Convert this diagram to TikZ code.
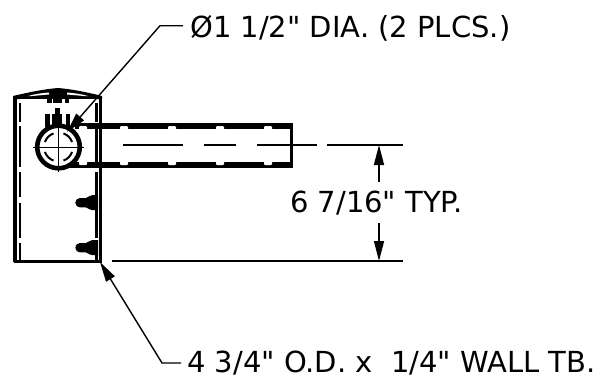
\documentclass[tikz,border=0pt]{standalone}
\usepackage{fontspec}
\setmainfont[Ligatures=TeXOff]{DejaVu Sans}
\usetikzlibrary{arrows.meta}
\tikzset{
 wall line/.style={line width=3.7pt,line join=round},
 thin line/.style={line width=1.4pt},
 hidden/.style={line width=2.2pt},
 lbl/.style={font=\fontsize{29}{30}\selectfont,inner sep=0pt,anchor=base west},
 tip/.style={-{Triangle[length=20pt,width=10pt]},line width=1.4pt}
}
\begin{document}
\begin{tikzpicture}[x=1pt,y=-1pt]
\useasboundingbox (0,0) rectangle (602,381);
% box body
\draw[wall line] (15,262) -- (15,97);
\draw[line width=2.6pt] (13.5,261.2) -- (102,261.2);
\draw[line width=3pt] (100,262) -- (100,97);
% cap
\fill[line join=round] (13,99) -- (13,96) .. controls (30,92) and (45,89) .. (58,88) .. controls (71,89) and (86,92) .. (102,96) -- (102,99) -- cycle;
\fill[white] (28,96) .. controls (35,94) and (42,93) .. (49,92.5) -- (49,94.5) -- (32,96) -- cycle;
\fill[white] (88,96) .. controls (81,94) and (74,93) .. (67,92.5) -- (67,94.5) -- (84,96) -- cycle;
\fill[white] (20,99) rectangle (96,100);
% inner hidden lines
\foreach \x in {20,96.5}{
 \draw[hidden] (\x,103) -- (\x,122); \draw[hidden] (\x,126) -- (\x,167); \draw[hidden] (\x,172) -- (\x,197); \draw[hidden] (\x,203) -- (\x,238); \draw[hidden] (\x,243) -- (\x,260);}
% top fastener
\fill (47,97) rectangle (52,103);
\fill (53,97) rectangle (62,103);
\fill (65,97) rectangle (69,103);
\fill (55,108) rectangle (60,117);
\fill (45,114) rectangle (50,127);
\fill (52,114) rectangle (62,127);
\fill (66,114) rectangle (70,127);
% tube
\fill (75,122.7) rectangle (293.3,129);
\fill (55,161.7) rectangle (293.3,168.3);
\fill (289.8,122.7) rectangle (293.3,168.3);
\foreach \x in {83,124,172,220,268}{
 \fill[white,rounded corners=1pt] (\x-4,126) rectangle (\x+4,130);
 \fill[white,rounded corners=1pt] (\x-4,160.5) rectangle (\x+4,165);
}
% pipe circle
\fill[white] (58.5,147) circle (21);
\draw[line width=4.6pt] (58.5,147) circle (21.3);
\foreach \a in {20,110,200,290}{
 \draw[line width=2pt] (58.5,147) ++(\a:14.5) arc (\a:\a+50:14.5);
}
\draw[line width=1pt] (33,147) -- (84,147);
\draw[line width=1pt] (58.5,120) -- (58.5,172);
% centre line
\draw[thin line] (123,145) -- (183,145);
\draw[thin line] (204,145) -- (236,145);
\draw[thin line] (257,145) -- (317,145);
\draw[thin line] (327,145) -- (403,145);
% bolts
\foreach \y in {202.7,247.7}{
 \fill (92,\y-7.5) -- (98,\y-7.5) -- (98,\y+7.5) -- (92,\y+7.5) .. controls (89,\y+7.5) and (88,\y+4.7) .. (86,\y+4.7) -- (80,\y+4.7) arc (90:270:4.7) -- (86,\y-4.7) .. controls (88,\y-4.7) and (89,\y-7.5) .. (92,\y-7.5) -- cycle;
}
% dimension
\coordinate (dimtop) at (379,145);
\coordinate (dimbot) at (379,261);
\coordinate (dimtopend) at (379,182);
\coordinate (dimbotend) at (379,223);
\coordinate (exta) at (112,261);
\coordinate (extb) at (403,261);
\draw[thin line] (exta) -- (extb);
\draw[tip] (dimtopend) -- (dimtop);
\draw[tip] (dimbotend) -- (dimbot);
\node[lbl] (dim) at (290,212.7) {6 7/16" TYP.};
% leaders
\node[lbl] (dia) at (190,37) {Ø1 1/2" DIA. (2 PLCS.)};
\node[lbl] (wall) at (187,372) {4 3/4" O.D. x\ \ 1/4" WALL TB.};
\coordinate (la) at (183,25.7); \coordinate (lb) at (160,25.7); \coordinate (lc) at (67,132);
\draw[tip] (la) -- (lb) -- (lc);
\coordinate (ma) at (181,363); \coordinate (mb) at (162,363); \coordinate (mc) at (100,262);
\draw[tip] (ma) -- (mb) -- (mc);
\end{tikzpicture}
\end{document}
